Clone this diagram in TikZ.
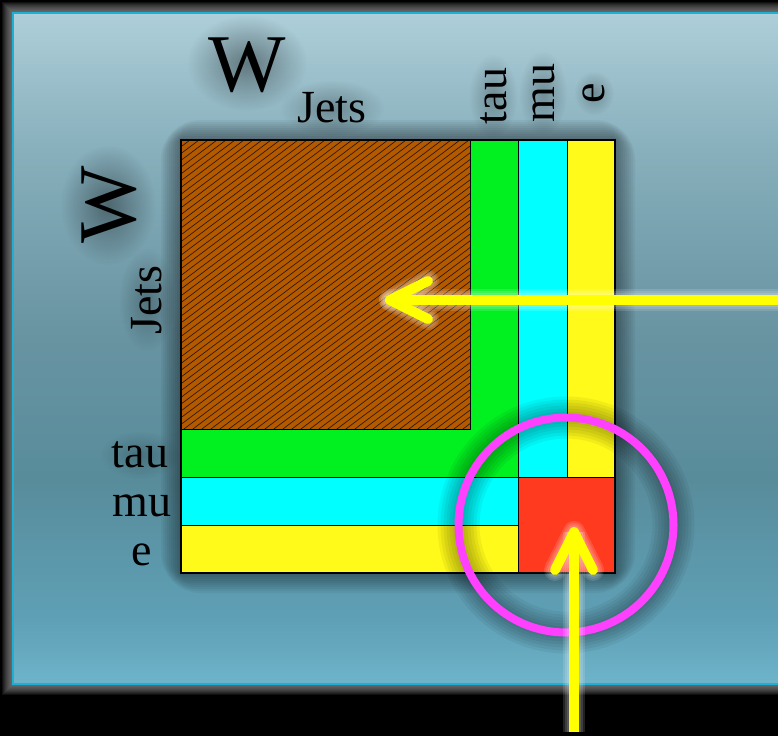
\documentclass[tikz,border=0pt]{standalone}
\usepackage{fontspec}
\setmainfont{Liberation Serif}
\usetikzlibrary{fadings}
\definecolor{ptop}{RGB}{174,207,217}
\definecolor{pq1}{RGB}{135,175,188}
\definecolor{pq2}{RGB}{105,148,162}
\definecolor{pq3}{RGB}{88,140,155}
\definecolor{pq4}{RGB}{95,160,182}
\definecolor{pbot}{RGB}{110,180,202}
\definecolor{pborder}{RGB}{30,175,210}
\definecolor{jetbrown}{RGB}{179,89,0}
\definecolor{taugreen}{RGB}{0,240,32}
\definecolor{mucyan}{RGB}{0,255,255}
\definecolor{eyellow}{RGB}{255,250,25}
\definecolor{mixred}{RGB}{255,58,31}
\definecolor{ringpink}{RGB}{255,64,255}
\definecolor{arrowyellow}{RGB}{255,255,0}
\pgfdeclareverticalshading{panelshade}{100bp}{color(0bp)=(pbot); color(25bp)=(pbot); color(29.8bp)=(pq4); color(40.2bp)=(pq3); color(51.4bp)=(pq2); color(64.8bp)=(pq1); color(75bp)=(ptop); color(100bp)=(ptop)}
\tikzfading[name=glowfade, inner color=transparent!0, outer color=transparent!100]
\begin{document}
\begin{tikzpicture}[x=1pt,y=-1pt,
  lbl/.style={font=\fontsize{46}{50}\selectfont, inner sep=0pt, anchor=base},
  big/.style={font=\fontsize{82}{90}\selectfont, inner sep=0pt, anchor=base},
  cell/.style={draw=black, line width=0.9pt},
  halo/.style={fill=black, opacity=#1, path fading=glowfade},
  arrowline/.style={draw=arrowyellow, line width=10pt, line cap=round, line join=round},
  arrowglow/.style={draw=white, opacity=0.13, line cap=round, line join=round},
]
\clip (0,0) rectangle (778,736);
\fill[black] (0,0) rectangle (778,736);
% panel with glow
\foreach \w in {2,4,...,22} \draw[gray!75!white, opacity=0.1, line width=\w pt] (13,13) rectangle (830,684);
\shade[shading=panelshade] (13,13) rectangle (830,684);
\draw[pborder, line width=2.5pt] (13,13) rectangle (830,684);

% matrix shadow
\foreach \w in {4,8,...,40} \draw[black, opacity=0.045, line width=\w pt, rounded corners=\w/2] (181,140) rectangle (615,573);

% jets block with hatching
\fill[jetbrown] (181,140) rectangle (470,429);
\begin{scope}
  \clip (181,140) rectangle (470,429);
  \foreach \c in {-240,-231,...,480} \draw[black, line width=0.6pt, opacity=0.8] (\c,450) -- ++(420,-316);
\end{scope}
\draw[cell] (181,140) rectangle (470,429);
% tau
\filldraw[cell, fill=taugreen] (470,140) -- (518,140) -- (518,477) -- (181,477) -- (181,429) -- (470,429) -- cycle;
% mu
\filldraw[cell, fill=mucyan] (518,140) rectangle (567,477);
\filldraw[cell, fill=mucyan] (181,477) rectangle (518,525);
% e
\filldraw[cell, fill=eyellow] (567,140) rectangle (615,477);
\filldraw[cell, fill=eyellow] (181,525) rectangle (518,573);
% red
\filldraw[cell, fill=mixred] (518,477) rectangle (615,573);
\draw[black, line width=2pt] (181,140) rectangle (615,573);

% label halos
\fill[halo=0.38] (247,63) ellipse [x radius=60pt, y radius=48pt];
\fill[halo=0.38] (108,205) ellipse [x radius=48pt, y radius=60pt];
\fill[halo=0.25] (332,108) ellipse [x radius=52pt, y radius=28pt];
\fill[halo=0.25] (147,300) ellipse [x radius=28pt, y radius=52pt];
\fill[halo=0.25] (493,96) ellipse [x radius=24pt, y radius=42pt];
\fill[halo=0.25] (543,93) ellipse [x radius=24pt, y radius=42pt];
\fill[halo=0.25] (594,93) ellipse [x radius=20pt, y radius=22pt];
\fill[halo=0.2] (140,455) ellipse [x radius=40pt, y radius=24pt];

% labels
\node[big] (Wtop) at (247,91) {W};
\node[big, rotate=90] (Wleft) at (135,205) {W};
\node[lbl] (jetstop) at (332,122) {Jets};
\node[lbl, rotate=90] (jetsleft) at (161,300) {Jets};
\node[lbl, rotate=90] (tautop) at (506,96) {tau};
\node[lbl, rotate=90] (mutop) at (554,93) {mu};
\node[lbl, rotate=90] (etop) at (604,93) {e};
\node[lbl] (tauleft) at (140,467) {tau};
\node[lbl] (muleft) at (142,516) {mu};
\node[lbl] (eleft) at (142,565) {e};

% ring
\coordinate (ringc) at (566,525);
\foreach \w in {12,18,...,42} \draw[black, opacity=0.05, line width=\w pt] (ringc) circle[radius=107.5pt];
\draw[ringpink, line width=8pt] (ringc) circle[radius=107.5pt];

% arrows
\coordinate (a1s) at (830,300);
\coordinate (a1t) at (390,300);
\coordinate (a2s) at (574,732);
\coordinate (a2t) at (574,532);
\foreach \w in {14,18,22} {
  \draw[arrowglow, line width=\w pt] (a1s) -- (a1t);
  \draw[arrowglow, line width=\w pt] ([shift={(38,-19)}]a1t) -- (a1t) -- ([shift={(38,19)}]a1t);
  \draw[arrowglow, line width=\w pt, line cap=butt] (a2s) -- (a2t);
  \draw[arrowglow, line width=\w pt] ([shift={(-19,38)}]a2t) -- (a2t) -- ([shift={(19,38)}]a2t);
}
\draw[arrowline] (a1s) -- (a1t);
\draw[arrowline] ([shift={(38,-19)}]a1t) -- (a1t) -- ([shift={(38,19)}]a1t);
\draw[arrowline, line cap=butt] (a2s) -- (a2t);
\draw[arrowline] ([shift={(-19,38)}]a2t) -- (a2t) -- ([shift={(19,38)}]a2t);
\end{tikzpicture}
\end{document}
